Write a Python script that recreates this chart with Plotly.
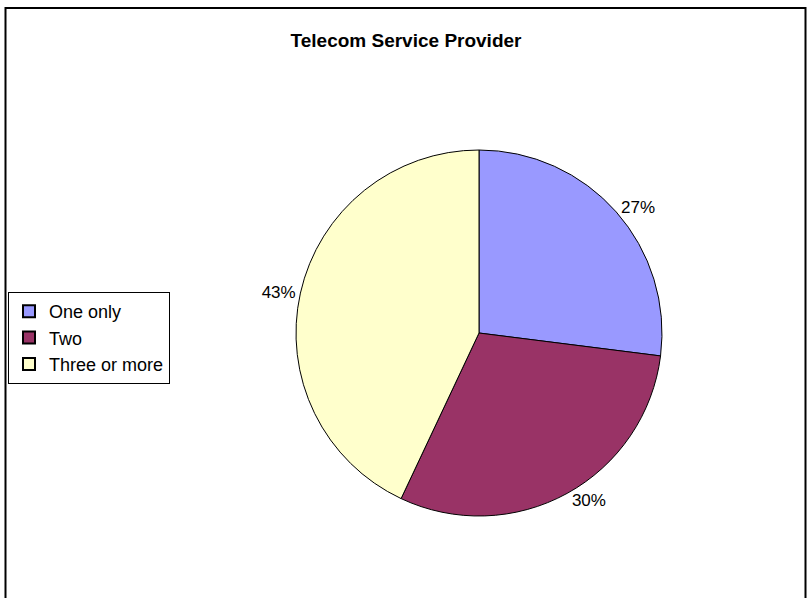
import plotly.graph_objects as go

labels = ["One only", "Two", "Three or more"]
values = [27, 30, 43]
colors = ["#9999FF", "#993366", "#FFFFCC"]

W, H = 807, 598
cx, cy, r = 479, 333, 183

fig = go.Figure(go.Pie(
    labels=labels, values=values, sort=False, direction="clockwise", rotation=0,
    marker=dict(colors=colors, line=dict(color="black", width=1)),
    textinfo="percent", textposition="outside",
    textfont=dict(family="Liberation Sans, Arial", size=17, color="black"),
    domain=dict(x=[(cx - r) / W, (cx + r) / W], y=[1 - (cy + r) / H, 1 - (cy - r) / H]),
    hoverinfo="label+percent",
))

fig.update_layout(
    width=W, height=H, margin=dict(l=0, r=0, t=0, b=0),
    paper_bgcolor="white", plot_bgcolor="white",
    font=dict(family="Liberation Sans, Arial", size=17, color="black"),
    title=dict(text="<b>Telecom Service Provider</b>", x=406 / W, xanchor="center",
               y=1 - 40 / H, yanchor="middle", font=dict(size=19, color="black")),
    legend=dict(x=8 / W, y=1 - 292 / H, xanchor="left", yanchor="top",
                bordercolor="black", borderwidth=1, bgcolor="white",
                font=dict(size=18), tracegroupgap=0, itemwidth=30,
                itemsizing="constant"),
    showlegend=True,
    shapes=[dict(type="rect", xref="paper", yref="paper",
                 x0=5.5 / W, x1=805.5 / W, y0=-0.05, y1=1 - 8 / H,
                 line=dict(color="black", width=2), fillcolor="rgba(0,0,0,0)")],
)

fig.write_html("out.html", config={"displayModeBar": False},
               post_script="document.body.style.margin='0';document.body.style.padding='0';")
